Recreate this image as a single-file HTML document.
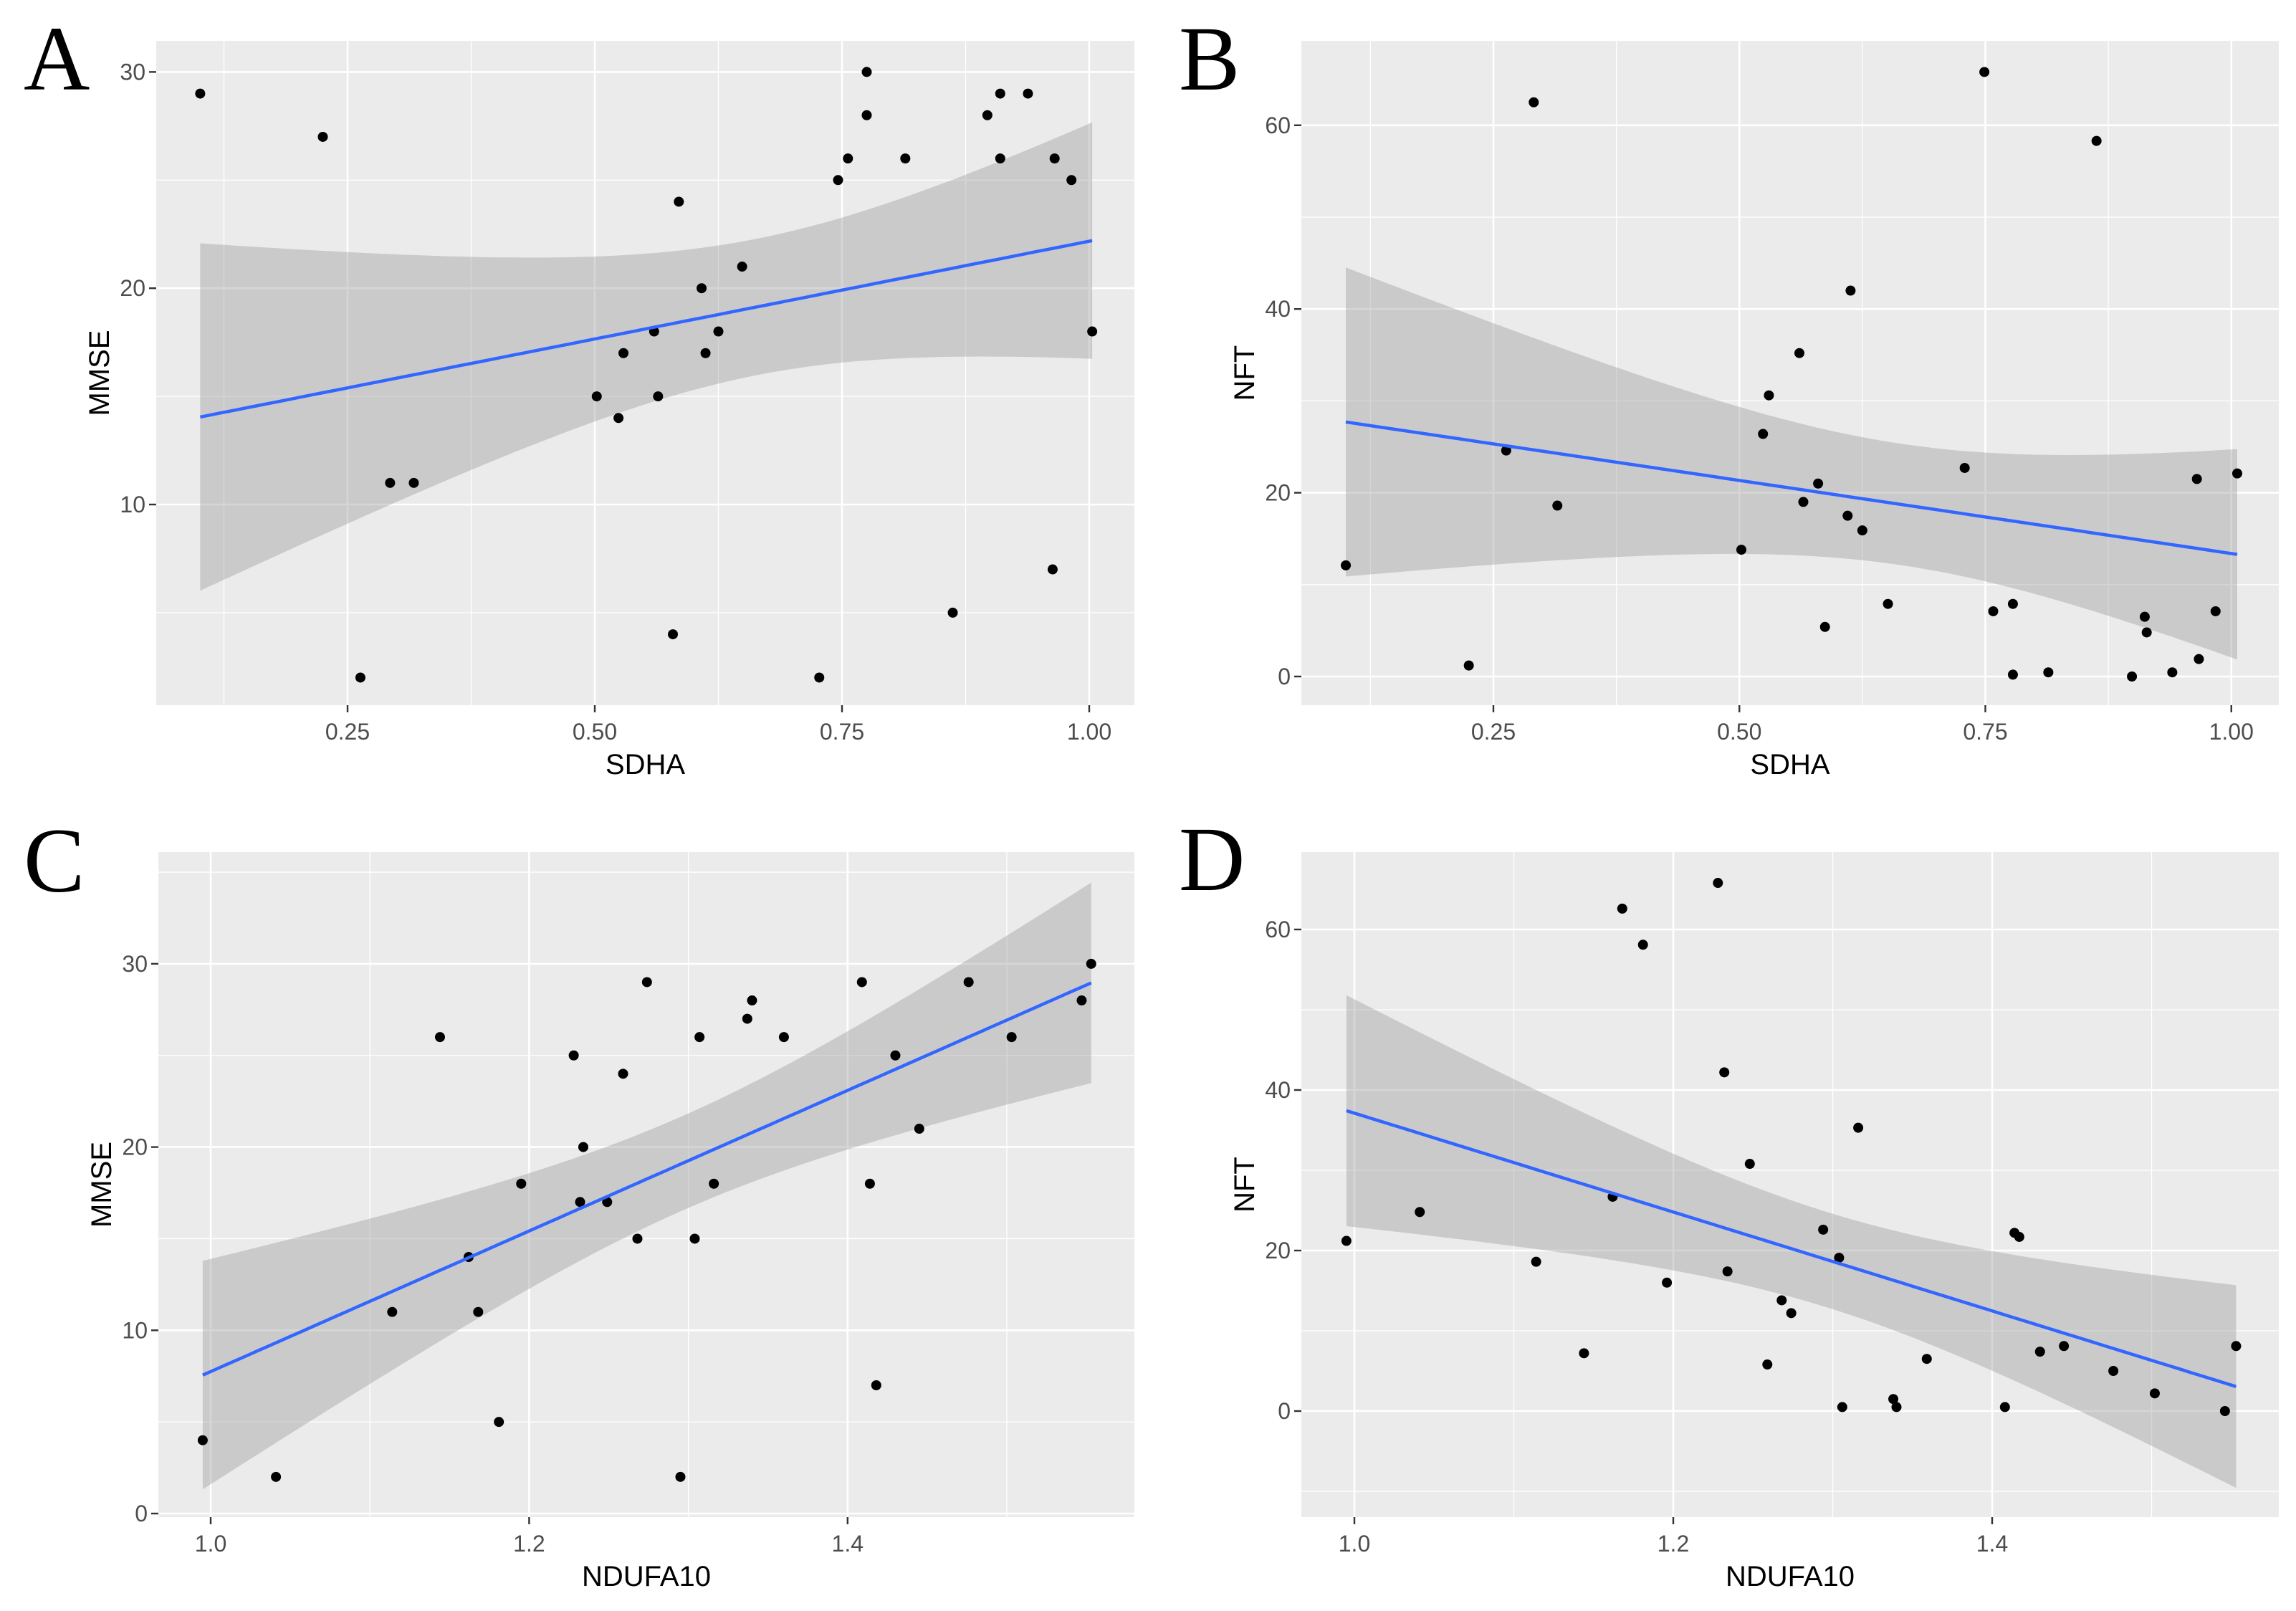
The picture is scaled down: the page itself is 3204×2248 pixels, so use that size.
<!DOCTYPE html>
<html><head><meta charset="utf-8">
<style>
html,body{margin:0;padding:0;background:#fff;}
svg{display:block;}
.tick{font-family:"Liberation Sans",Arial,sans-serif;font-size:32px;fill:#4D4D4D;}
.atitle{font-family:"Liberation Sans",Arial,sans-serif;font-size:40px;fill:#000;}
.letter{font-family:"Liberation Serif","Times New Roman",serif;font-size:128px;fill:#000;}
</style></head>
<body>
<svg id="fig" width="3204" height="2248" viewBox="0 0 3204 2248" xmlns="http://www.w3.org/2000/svg">
<rect x="0" y="0" width="3204" height="2248" fill="#fff"/>
</svg>
<script>
// ---- Panel A: SDHA vs MMSE ----
const aSdha = [0.101,0.225,0.263,0.293,0.317,0.502,0.524,0.529,0.560,0.564,0.579,0.585,0.608,0.612,0.625,0.649,0.727,0.746,0.756,0.775,0.775,0.814,0.862,0.897,0.910,0.910,0.938,0.963,0.965,0.982,1.003];
const aMmse = [29,27,2,11,11,15,14,17,18,15,4,24,20,17,18,21,2,25,26,30,28,26,5,28,29,26,29,7,26,25,18];
// ---- Panel B: SDHA vs NFT ----
const bSdha = [0.100,0.225,0.263,0.291,0.315,0.502,0.524,0.530,0.561,0.565,0.580,0.587,0.610,0.613,0.625,0.651,0.729,0.749,0.758,0.778,0.778,0.814,0.863,0.899,0.912,0.914,0.940,0.965,0.967,0.984,1.006];
const bNft = [12.1,1.2,24.6,62.5,18.6,13.8,26.4,30.6,35.2,19.0,21.0,5.4,17.5,42.0,15.9,7.9,22.7,65.8,7.1,7.9,0.2,0.45,58.3,0.0,6.5,4.8,0.45,21.5,1.9,7.1,22.1];
// ---- Panel C: NDUFA10 vs MMSE ----
const cNdufa = [0.995,1.041,1.114,1.144,1.162,1.168,1.181,1.195,1.228,1.232,1.234,1.249,1.259,1.268,1.274,1.295,1.304,1.307,1.316,1.337,1.340,1.360,1.409,1.414,1.418,1.430,1.445,1.476,1.503,1.547,1.553];
const cMmse = [4,2,11,26,14,11,5,18,25,17,20,17,24,15,29,2,15,26,18,27,28,26,29,18,7,25,21,29,26,28,30];
// ---- Panel D: NDUFA10 vs NFT ----
const dNdufa = [0.995,1.041,1.114,1.144,1.162,1.168,1.181,1.196,1.228,1.232,1.234,1.248,1.259,1.268,1.274,1.294,1.304,1.306,1.316,1.338,1.340,1.359,1.408,1.414,1.417,1.430,1.445,1.476,1.502,1.546,1.553];
const dNft = [21.2,24.8,18.6,7.2,26.7,62.6,58.1,16.0,65.8,42.2,17.4,30.8,5.8,13.8,12.2,22.6,19.1,0.5,35.3,1.5,0.5,6.5,0.5,22.2,21.7,7.4,8.1,5.0,2.2,0.0,8.1];
// tick labels
const abXTicks = ["0.25","0.50","0.75","1.00"];
const cdXTicks = ["1.0","1.2","1.4"];
const mmseTicksA = ["10","20","30"];
const nftTicks = ["0","20","40","60"];
const mmseTicksC = ["0","10","20","30"];

const NS = "http://www.w3.org/2000/svg";
const svg = document.getElementById('fig');
function mk(tag, attrs, parent){
  const e = document.createElementNS(NS, tag);
  for (const k in attrs) e.setAttribute(k, attrs[k]);
  (parent||svg).appendChild(e);
  return e;
}

const panels = [
  {id:'a', letter:'A', lx:33, ly:125, L:218, R:1583, T:57, B:984,
   xs:v=>485+(v-0.25)*1380, ys:v=>100.4+(30-v)*30.18,
   xd:aSdha, yd:aMmse, xTicks:abXTicks, yTicks:mmseTicksA,
   xMinor:[0.125,0.375,0.625,0.875], yMinor:[5,15,25],
   xTitle:'SDHA', yTitle:'MMSE'},
  {id:'b', letter:'B', lx:1645, ly:125, L:1816, R:3180, T:57, B:984,
   xs:v=>2084+(v-0.25)*1373, ys:v=>944-v*12.82,
   xd:bSdha, yd:bNft, xTicks:abXTicks, yTicks:nftTicks,
   xMinor:[0.125,0.375,0.625,0.875], yMinor:[10,30,50],
   xTitle:'SDHA', yTitle:'NFT'},
  {id:'c', letter:'C', lx:33, ly:1244, L:221, R:1583, T:1189, B:2117,
   xs:v=>294+(v-1)*2222, ys:v=>2112-v*25.57,
   xd:cNdufa, yd:cMmse, xTicks:cdXTicks, yTicks:mmseTicksC,
   xMinor:[1.1,1.3,1.5], yMinor:[5,15,25,35],
   xTitle:'NDUFA10', yTitle:'MMSE'},
  {id:'d', letter:'D', lx:1645, ly:1242, L:1816, R:3180, T:1189, B:2117,
   xs:v=>1890+(v-1)*2225, ys:v=>1969-v*11.2,
   xd:dNdufa, yd:dNft, xTicks:cdXTicks, yTicks:nftTicks,
   xMinor:[1.1,1.3,1.5], yMinor:[-10,10,30,50],
   xTitle:'NDUFA10', yTitle:'NFT'}
];

function fit(xs, ys){
  const n = xs.length;
  const mx = xs.reduce((s,v)=>s+v,0)/n, my = ys.reduce((s,v)=>s+v,0)/n;
  let sxx=0, sxy=0;
  for (let i=0;i<n;i++){ sxx+=(xs[i]-mx)**2; sxy+=(xs[i]-mx)*(ys[i]-my); }
  const b = sxy/sxx, a = my-b*mx;
  let sse=0;
  for (let i=0;i<n;i++){ sse+=(ys[i]-a-b*xs[i])**2; }
  const s = Math.sqrt(sse/(n-2));
  return {a,b,s,n,mx,sxx};
}

panels.forEach(p=>{
  const g = mk('g', {});
  
  
  const bg = mk('rect', {x:p.L, y:p.T, width:p.R-p.L, height:p.B-p.T, fill:'#EBEBEB'}, g);
  
  
  const clipId = 'clip'+p.id;
  const cp = mk('clipPath', {id:clipId}, g);
  mk('rect', {x:p.L, y:p.T, width:p.R-p.L, height:p.B-p.T}, cp);
  const inner = mk('g', {'clip-path':'url(#'+clipId+')'}, g);
  // minor grid
  p.xMinor.forEach(v=>{ const x=p.xs(v); const l=mk('line',{x1:x,x2:x,y1:p.T,y2:p.B,stroke:'#fff','stroke-width':1.3},inner);
      });
  p.yMinor.forEach(v=>{ const y=p.ys(v); const l=mk('line',{x1:p.L,x2:p.R,y1:y,y2:y,stroke:'#fff','stroke-width':1.3},inner);
      });
  // major grid + ticks
  p.xTicks.forEach(t=>{ const x=p.xs(parseFloat(t));
    const l=mk('line',{x1:x,x2:x,y1:p.T,y2:p.B,stroke:'#fff','stroke-width':2.6},inner);
     
    const tk=mk('line',{x1:x,x2:x,y1:p.B,y2:p.B+10,stroke:'#333','stroke-width':2.4},g);
     
    const tx=mk('text',{x:x,y:p.B+48,'text-anchor':'middle',class:'tick'},g); tx.textContent=t;
     
  });
  p.yTicks.forEach(t=>{ const y=p.ys(parseFloat(t));
    const l=mk('line',{x1:p.L,x2:p.R,y1:y,y2:y,stroke:'#fff','stroke-width':2.6},inner);
     
    const tk=mk('line',{x1:p.L-10,x2:p.L,y1:y,y2:y,stroke:'#333','stroke-width':2.4},g);
     
    const tx=mk('text',{x:p.L-15,y:y+11,'text-anchor':'end',class:'tick'},g); tx.textContent=t;
     
  });
  // regression + CI band
  const f = fit(p.xd, p.yd);
  const xmin = Math.min(...p.xd), xmax = Math.max(...p.xd);
  const tq = 2.045;
  const up=[], lo=[], mid=[];
  for (let i=0;i<=80;i++){
    const xv = xmin + (xmax-xmin)*i/80;
    const yh = f.a + f.b*xv;
    const se = f.s*Math.sqrt(1/f.n + (xv-f.mx)**2/f.sxx);
    up.push([p.xs(xv), p.ys(yh+tq*se)]);
    lo.push([p.xs(xv), p.ys(yh-tq*se)]);
    mid.push([p.xs(xv), p.ys(yh)]);
  }
  const bandPts = up.concat(lo.reverse()).map(q=>q[0].toFixed(1)+','+q[1].toFixed(1)).join(' ');
  const band = mk('polygon',{points:bandPts, fill:'#999999','fill-opacity':0.4},inner);
  
  
  // points
  p.xd.forEach((xv,i)=>{
    const c = mk('circle',{cx:p.xs(xv), cy:p.ys(p.yd[i]), r:7, fill:'#000'},inner);
    
    
  });
  const ln = mk('polyline',{points:mid.map(q=>q[0].toFixed(1)+','+q[1].toFixed(1)).join(' '), fill:'none', stroke:'#3366FF','stroke-width':4.5},inner);
  
  
  // titles
  const xt = mk('text',{x:(p.L+p.R)/2, y:p.B+96,'text-anchor':'middle',class:'atitle'},g); xt.textContent=p.xTitle;
   
  const cy=(p.T+p.B)/2;
  const yt = mk('text',{x:147, y:cy,'text-anchor':'middle',class:'atitle',transform:'rotate(-90 '+(p.L-80)+' '+cy+')'},g);
  yt.setAttribute('x', p.L-80+0); yt.setAttribute('y', cy+14);
  yt.textContent=p.yTitle;
   
  const lt = mk('text',{x:p.lx, y:p.ly, class:'letter'},g); lt.textContent=p.letter;
   
});
</script>
</body></html>
